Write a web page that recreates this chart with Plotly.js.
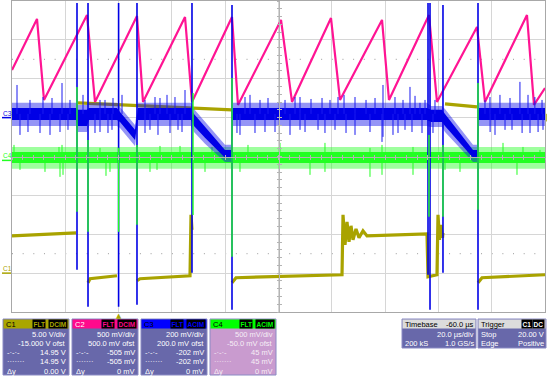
<!DOCTYPE html>
<html>
<head>
<meta charset="utf-8">
<script src="https://cdn.plot.ly/plotly-3.0.1.min.js"></script>
<style>
html,body{margin:0;padding:0;background:#ffffff;overflow:hidden;}
#chart{width:550px;height:376px;}
</style>
</head>
<body>
<div id="chart"></div>
<script>
// ===== scope settings =====
const chNames = ['C1','C2','C3','C4'];
const chVoltsPerDiv = [5.0, 0.5, 0.2, 0.5];
const chOffset = [-15.0, 0.5, 0.2, -0.05];
const timePerDiv = 20;      // µs/div
const timeLeft = -40;       // µs at left edge of graticule
const triggerTime = 0;      // µs
const triggerLevel = 20.0;  // V on C1
const cursorLevelsDiv = [2.5, -2.5];

// ===== C1 (olive), pieces separated by null =====
const c1Time = [-40, -15.98, null, -15.23, 42.55, null, -11.48, -10.73, -0.60, null, 6.90, 8.03, 26.79, 27.17, 27.54, null,
  42.55, 44.05, 83.83, 84.21, 84.96, 85.71, 86.46, 87.21, 87.96, 89.08, 90.21, 91.71, 93.21, 115.72, 116.10, 119.47, 119.85, 120.41, 120.97, 121.54, 121.72, null,
  122.48, 134.48, null, 134.86, 136.36, 160];
const c1Volt = [4.79, 5.18, null, 21.89, 20.99, null, -1.24, -0.72, -0.34, null, -0.98, -0.72, -0.34, 7.49, 5.57, null,
  -1.24, -0.59, -0.21, 7.49, 3.64, 6.59, 4.02, 6.08, 4.28, 5.69, 4.54, 5.44, 4.79, 5.05, -0.47, -0.21, 7.49, 4.28, 6.21, 4.54, 5.18, null,
  21.76, 21.38, null, -1.24, -0.59, -0.21];

// ===== C2 (magenta) sawtooth =====
const c2Time = [-40, -30.62, -27.99, -11.86, -8.86, 6.90, 9.16, 24.92, 27.54, 42.55, 44.80, 60.94, 65.07, 79.70, 83.08, 98.84, 101.46, 116.47, 119.47, 134.48, 137.48, 153.24, 155.87, 160];
const c2Volt = [0.613, 1.269, 0.227, 1.320, 0.202, 1.307, 0.202, 1.294, 0.202, 1.294, 0.163, 1.256, 0.202, 1.281, 0.227, 1.256, 0.227, 1.320, 0.202, 1.166, 0.202, 1.320, 0.163, 0.38];

// ===== C3 (blue): noise band envelopes, noise spikes, switching spikes =====
const c3BandTime = [-40, -15.98, -15.23, -11.86, -11.11, -0.60, 0.53, 6.15, 7.28, 27.17, 28.29, 32.42, 39.92, 42.17, 42.92, 115.72, 117.22, 121.35, 122.48, 132.98, 134.48, 135.23, 160];
const c3CoreHigh = [0.050, 0.050, 0.040, 0.040, 0.050, 0.050, 0.029, -0.063, 0.050, 0.050, 0.019, -0.048, -0.166, -0.166, 0.050, 0.050, 0.040, 0.040, 0.019, -0.166, -0.166, 0.050, 0.050];
const c3CoreLow = [-0.012, -0.012, -0.043, -0.043, -0.012, -0.012, -0.022, -0.115, -0.012, -0.012, -0.043, -0.104, -0.207, -0.207, -0.012, -0.012, -0.022, -0.022, -0.043, -0.207, -0.207, -0.012, -0.012];
const c3FringeHigh = [0.076, 0.076, 0.065, 0.065, 0.076, 0.076, 0.055, -0.038, 0.076, 0.076, 0.045, -0.022, -0.140, -0.140, 0.076, 0.076, 0.060, 0.060, 0.045, -0.140, -0.140, 0.076, 0.076];
const c3FringeLow = [-0.043, -0.043, -0.074, -0.074, -0.043, -0.043, -0.053, -0.146, -0.043, -0.043, -0.074, -0.135, -0.228, -0.228, -0.043, -0.043, -0.048, -0.048, -0.074, -0.228, -0.228, -0.043, -0.043];
const c3NoiseBase = 0.019;
const c3NoiseUpTime = [-38.12, -33.25, -28.37, -24.99, -21.24, -18.24, -13.36, -6.98, -5.10, -2.10, 1.28, 9.91, 13.66, 15.53, 18.16, 21.16, 24.92,
  47.43, 49.31, 53.06, 56.06, 62.45, 66.20, 68.07, 72.20, 76.33, 79.33, 82.33, 84.59, 88.71, 92.84, 96.22, 99.21, 103.71, 106.72, 109.34, 111.23, 113.09, 114.98, 118.72,
  137.48, 139.36, 143.10, 146.87, 150.6, 153.62, 156.2, 158.88];
const c3NoiseUpVolt = [0.168, 0.091, 0.106, 0.101, 0.178, 0.091, 0.117, 0.091, 0.091, 0.101, 0.117, 0.091, 0.106, 0.101, 0.117, 0.106, 0.142,
  0.106, 0.117, 0.091, 0.101, 0.091, 0.106, 0.106, 0.096, 0.101, 0.091, 0.106, 0.117, 0.106, 0.091, 0.101, 0.168, 0.106, 0.091, 0.158, 0.112, 0.076, 0.091, 0.091,
  0.091, 0.106, 0.117, 0.101, 0.184, 0.117, 0.106, 0.091];
const c3NoiseDownTime = [-37.00, -34.00, -29.49, -25.74, -21.99, -18.99, -8.86, -6.98, -3.98, -2.48, 9.91, 11.78, 14.78, 19.29, 22.29, 23.79,
  44.42, 45.55, 51.18, 54.93, 58.69, 64.32, 68.07, 69.95, 74.83, 77.44, 81.20, 85.34, 88.71, 94.33, 98.84, 99.21, 102.96, 104.84, 107.47, 110.09, 113.85, 117.97,
  139.4, 141.24, 145.0, 147.62, 151.4, 154.37, 157.4, 159.25];
const c3NoiseDownVolt = [-0.089, -0.074, -0.079, -0.089, -0.074, -0.063, -0.079, -0.074, -0.079, -0.063, -0.079, -0.063, -0.089, -0.079, -0.063, -0.074,
  -0.079, -0.089, -0.079, -0.074, -0.074, -0.089, -0.063, -0.074, -0.063, -0.079, -0.063, -0.079, -0.089, -0.074, -0.125, -0.099, -0.089, -0.079, -0.063, -0.074, -0.079, -0.079,
  -0.074, -0.089, -0.063, -0.063, -0.079, -0.079, -0.074, -0.063];
const c3SpikeTime = [-15.61, -11.48, 0, 6.90, 27.54, 42.55, 116.10, 116.85, 121.72, 134.86];
const c3SpikeHigh = [0.59, 0.59, 0.59, 0.59, 0.59, 0.579, 0.59, 0.59, 0.579, 0.59];
const c3SpikeLow = [-0.783, -0.973, -0.973, -0.963, -0.798, -0.989, -0.809, -0.989, -0.798, -0.989];

// ===== C4 (green): noise band, noise spikes, switching spikes =====
const c4BandTime = [-40, 60, 160];
const c4CoreHigh = [0.109, 0.109, 0.109];
const c4CoreLow = [-0.032, -0.032, -0.032];
const c4FringeHigh = [0.173, 0.173, 0.173];
const c4FringeLow = [-0.109, -0.109, -0.109];
const c4NoiseBase = 0.032;
const c4NoiseUpTime = [-39.25, -22.36, -21.24, -6.98, 15.53, 23.04, 35.05, 48.55, 60.56, 77.44, 94.33, 98.84, 110.47, 131.11, 144.24, 151.74, 158.12];
const c4NoiseUpVolt = [0.199, 0.173, 0.199, 0.161, 0.186, 0.186, 0.173, 0.199, 0.225, 0.225, 0.161, 0.199, 0.173, 0.161, 0.225, 0.173, 0.135];
const c4NoiseDownTime = [-37.00, -27.62, -21.99, -20.86, -4.73, -3.23, 11.78, 14.41, 32.42, 45.55, 71.82, 77.44, 94.33, 98.84, 110.47, 122.48, 128.10, 149.49];
const c4NoiseDownVolt = [-0.122, -0.148, -0.212, -0.186, -0.199, -0.148, -0.148, -0.122, -0.148, -0.148, -0.186, -0.148, -0.212, -0.186, -0.186, -0.122, -0.148, -0.186];
const c4SpikeTime = [-15.61, -11.48, 0, 6.90, 27.92, 42.55, 116.47, 121.72, 134.86];
const c4SpikeHigh = [0.945, 0.263, 0.161, 0.199, 0.867, 1.060, 0.328, 0.199, 0.996];
const c4SpikeLow = [-0.662, -0.919, -0.919, -0.829, -0.701, -1.240, -0.726, -0.726, -0.636];

// ===== readout panel texts =====
const panelModes = [['FLT','DCIM'],['FLT','DCIM'],['FLT','ACIM'],['FLT','ACIM']];
const panelScale = ['5.00 V/div','500 mV/div','200 mV/div','500 mV/div'];
const panelOffset = ['-15.000 V ofst','500.0 mV ofst','200.0 mV ofst','-50.0 mV ofst'];
const panelCursorA = ['14.95 V','-505 mV','-202 mV','45 mV'];
const panelCursorB = ['14.95 V','-505 mV','-202 mV','45 mV'];
const panelDelta = ['0.00 V','0 mV','0 mV','0 mV'];
const timebaseTexts = ['Timebase','-60.0 µs','20.0 µs/div','200 kS','1.0 GS/s'];
const triggerTexts = ['Trigger','C1','DC','Stop','20.00 V','Edge','Positive'];

// ===== styling =====
const FONT = 'Liberation Sans, Arial, sans-serif';
const chColor = ['#a9a300', '#ff1493', '#0000e6', '#22ff22'];
const fringeColor = ['', '', 'rgba(20,20,235,0.45)', 'rgba(40,255,40,0.45)'];
const headColor = ['#aaa600', '#ff0a8c', '#0000ff', '#00ff00'];
const headText = ['#000000', '#ffffff', '#000000', '#000000'];
const bodyColor = ['#6868aa', '#6868aa', '#6868aa', '#c99bcf'];
const bodyText = ['#ffffff', '#ffffff', '#ffffff', '#f6eef6'];

const L = 12, R = 545, T = 1, B = 312;
const px = x => (x - L) / (R - L);
const py = y => (B - y) / (B - T);

function vSegs(ts, a, b) {
  const x = [], y = [];
  for (let i = 0; i < ts.length; i++) { x.push(ts[i], ts[i], null); y.push(a[i], b[i], null); }
  return {x, y};
}
function spikes(ts, vs, base) {
  const x = [], y = [];
  for (let i = 0; i < ts.length; i++) { x.push(ts[i], ts[i], null); y.push(base, vs[i], null); }
  return {x, y};
}
function cat(p, q) { return {x: p.x.concat(q.x), y: p.y.concat(q.y)}; }

const c3Noise = cat(spikes(c3NoiseUpTime, c3NoiseUpVolt, c3NoiseBase), spikes(c3NoiseDownTime, c3NoiseDownVolt, c3NoiseBase));
const c4Noise = cat(spikes(c4NoiseUpTime, c4NoiseUpVolt, c4NoiseBase), spikes(c4NoiseDownTime, c4NoiseDownVolt, c4NoiseBase));
const c3Sp = vSegs(c3SpikeTime, c3SpikeHigh, c3SpikeLow);
const c4Sp = vSegs(c4SpikeTime, c4SpikeHigh, c4SpikeLow);

const base = {type: 'scatter', mode: 'lines', hoverinfo: 'skip', showlegend: false, connectgaps: false};
function band(t, hi, lo, ax, col) {
  return [
    Object.assign({}, base, {x: t, y: hi, yaxis: ax, line: {width: 0, color: col}}),
    Object.assign({}, base, {x: t, y: lo, yaxis: ax, line: {width: 0, color: col}, fill: 'tonexty', fillcolor: col})
  ];
}
const traces = [].concat(
  [Object.assign({}, base, {x: [], y: [], xaxis: 'x', yaxis: 'y'})],
  // C1 on y2
  [Object.assign({}, base, {x: c1Time, y: c1Volt, yaxis: 'y2', line: {color: chColor[0], width: 3.2}})],
  // C2 on y3
  [Object.assign({}, base, {x: c2Time, y: c2Volt, yaxis: 'y3', line: {color: chColor[1], width: 2.2}})],
  // C4 band + noise on y4 (below C3)
  band(c4BandTime, c4FringeHigh, c4FringeLow, 'y4', fringeColor[3]),
  band(c4BandTime, c4CoreHigh, c4CoreLow, 'y4', chColor[3]),
  [Object.assign({}, base, {x: c4Noise.x, y: c4Noise.y, yaxis: 'y4', line: {color: chColor[3], width: 1}})],
  // C3 on y5
  band(c3BandTime, c3FringeHigh, c3FringeLow, 'y5', fringeColor[2]),
  band(c3BandTime, c3CoreHigh, c3CoreLow, 'y5', chColor[2]),
  [Object.assign({}, base, {x: c3Noise.x, y: c3Noise.y, yaxis: 'y5', line: {color: '#1a1af0', width: 1}}),
   Object.assign({}, base, {x: c3Sp.x, y: c3Sp.y, yaxis: 'y5', line: {color: chColor[2], width: 1.6}})],
  // C4 switching spikes on y6 (above C3)
  [Object.assign({}, base, {x: c4Sp.x, y: c4Sp.y, yaxis: 'y6', line: {color: chColor[3], width: 1.4}})],
  // trigger level marker
  [Object.assign({}, base, {mode: 'markers', x: [timeLeft + 10 * timePerDiv], y: [triggerLevel], yaxis: 'y2', cliponaxis: false,
    marker: {symbol: 'triangle-left', size: 7, color: chColor[0]}})],
  // centre tick axes
  [Object.assign({}, base, {x: [], y: [], yaxis: 'y7'}),
   Object.assign({}, base, {x: [], y: [], yaxis: 'y8'}),
   Object.assign({}, base, {x: [], y: [], xaxis: 'x2', yaxis: 'y'}),
   Object.assign({}, base, {x: [], y: [], xaxis: 'x3', yaxis: 'y'})]
);

function chAxis(i) {
  return {range: [-4 * chVoltsPerDiv[i] - chOffset[i], 4 * chVoltsPerDiv[i] - chOffset[i]], overlaying: 'y', visible: false, fixedrange: true};
}
const tRange = [timeLeft, timeLeft + 10 * timePerDiv];
const tickAx = (ticks) => ({anchor: 'free', position: 0.5, showline: true, linecolor: '#b4b4b4', linewidth: 1,
  ticks: ticks, ticklen: 2, tickwidth: 1, tickcolor: '#b4b4b4', showticklabels: false, showgrid: false, zeroline: false, fixedrange: true});

const shapes = [];
const annotations = [];

// cursor dotted lines
cursorLevelsDiv.forEach(v => shapes.push({type: 'line', xref: 'paper', yref: 'y', x0: 0, x1: 1, y0: v, y1: v,
  line: {color: '#9a9a9a', width: 1, dash: '1px,9.66px'}, layer: 'below'}));

// channel ground labels (left)
const gAxes = ['y2', 'y5', 'y4'];
const gIdx = [0, 2, 3];
gIdx.forEach((ci, k) => {
  annotations.push({xref: 'paper', yref: gAxes[k], x: px(2), y: 0, xanchor: 'left', yanchor: 'bottom', text: chNames[ci], showarrow: false,
    font: {family: FONT, size: 6.5, color: chColor[ci]}, borderpad: 0});
  shapes.push({type: 'line', xref: 'paper', yref: gAxes[k], x0: px(2), x1: px(11), y0: 0, y1: 0, line: {color: chColor[ci], width: 1.5}});
});
// trigger position marker (below graticule)
annotations.push({xref: 'x', yref: 'paper', x: triggerTime, y: py(316), text: '▲', showarrow: false, xanchor: 'center', yanchor: 'middle',
  font: {family: 'DejaVu Sans, sans-serif', size: 7, color: chColor[0]}, borderpad: 0});

// readout boxes
function rect(x0, y0, x1, y1, fill, lineCol) {
  shapes.push({type: 'rect', xref: 'paper', yref: 'paper', x0: px(x0), x1: px(x1), y0: py(y0), y1: py(y1),
    fillcolor: fill, line: {color: lineCol || fill, width: lineCol ? 1 : 0}});
}
function txt(x, y, s, color, anchor, extra) {
  annotations.push(Object.assign({xref: 'paper', yref: 'paper', x: px(x), y: py(y), text: s, showarrow: false,
    xanchor: anchor, yanchor: 'middle', borderpad: 0, font: {family: FONT, size: 7.5, color: color}}, extra || {}));
}
function badge(xr, y, s, fg) {
  txt(xr, y, s, fg, 'right', {bgcolor: '#000000', borderpad: 0.5, font: {family: FONT, size: 6.5, color: fg, weight: 'bold'}});
}

const boxX = [3, 72, 141, 210], boxW = 66, boxTop = 319, boxBot = 375;
const rowY = [324, 334, 343.3, 352.6, 361.8, 371];
for (let i = 0; i < 4; i++) {
  const x0 = boxX[i], x1 = boxX[i] + boxW;
  rect(x0, boxTop, x1, boxBot, bodyColor[i], '#8a8ac4');
  rect(x0 + 0.5, boxTop + 0.5, x1 - 0.5, boxTop + 9.5, headColor[i]);
  txt(x0 + 2, rowY[0], chNames[i], headText[i], 'left');
  badge(x1 - 1.5, rowY[0], panelModes[i][1], headColor[i]);
  badge(x1 - 23.5, rowY[0], panelModes[i][0], headColor[i]);
  txt(x1 - 2, rowY[1], panelScale[i], bodyText[i], 'right');
  txt(x1 - 2, rowY[2], panelOffset[i], bodyText[i], 'right');
  txt(x0 + 3, rowY[3], '-·-·-', bodyText[i], 'left');
  txt(x1 - 2, rowY[3], panelCursorA[i], bodyText[i], 'right');
  txt(x0 + 3, rowY[4], '·······', bodyText[i], 'left');
  txt(x1 - 2, rowY[4], panelCursorB[i], bodyText[i], 'right');
  txt(x0 + 3, rowY[5], 'Δy', bodyText[i], 'left');
  txt(x1 - 2, rowY[5], panelDelta[i], bodyText[i], 'right');
}

// timebase box
rect(402, boxTop, 476, 348, '#6868aa', '#8a8ac4');
rect(402.5, boxTop + 0.5, 475.5, boxTop + 9.5, '#dcdcdc');
txt(404, rowY[0], timebaseTexts[0], '#000000', 'left');
txt(475, rowY[0], timebaseTexts[1], '#000000', 'right');
txt(475, rowY[1], timebaseTexts[2], '#ffffff', 'right');
txt(404, rowY[2], timebaseTexts[3], '#ffffff', 'left');
txt(475, rowY[2], timebaseTexts[4], '#ffffff', 'right');
// trigger box
rect(478, boxTop, 546, 348, '#6868aa', '#8a8ac4');
rect(478.5, boxTop + 0.5, 545.5, boxTop + 9.5, '#dcdcdc');
txt(480, rowY[0], triggerTexts[0], '#000000', 'left');
badge(544.5, rowY[0], triggerTexts[2], '#ffffff');
badge(533, rowY[0], triggerTexts[1], '#ffffff');
txt(480, rowY[1], triggerTexts[3], '#ffffff', 'left');
txt(545, rowY[1], triggerTexts[4], '#ffffff', 'right');
txt(480, rowY[2], triggerTexts[5], '#ffffff', 'left');
txt(545, rowY[2], triggerTexts[6], '#ffffff', 'right');

const layout = {
  width: 550, height: 376,
  margin: {l: L, r: 550 - R, t: T, b: 376 - B, pad: 0},
  paper_bgcolor: '#ffffff', plot_bgcolor: '#ffffff',
  showlegend: false,
  xaxis: {range: tRange, tick0: timeLeft, dtick: timePerDiv, showgrid: true, gridcolor: '#d6d6d6', gridwidth: 1,
    showline: true, mirror: true, linecolor: '#a8a8a8', linewidth: 1, ticks: '', showticklabels: false, zeroline: false, fixedrange: true},
  yaxis: {range: [-4, 4], tick0: -4, dtick: 1, showgrid: true, gridcolor: '#d6d6d6', gridwidth: 1,
    showline: true, mirror: true, linecolor: '#a8a8a8', linewidth: 1, ticks: '', showticklabels: false,
    zeroline: true, zerolinecolor: '#b4b4b4', zerolinewidth: 1, fixedrange: true},
  yaxis2: chAxis(0), yaxis3: chAxis(1), yaxis4: chAxis(3), yaxis5: chAxis(2), yaxis6: chAxis(3),
  yaxis7: Object.assign({overlaying: 'y', range: [-4, 4], tick0: 0, dtick: 0.2}, tickAx('outside')),
  yaxis8: Object.assign({overlaying: 'y', range: [-4, 4], tick0: 0, dtick: 0.2}, tickAx('inside')),
  xaxis2: Object.assign({overlaying: 'x', range: tRange, tick0: timeLeft, dtick: timePerDiv / 5}, tickAx('outside')),
  xaxis3: Object.assign({overlaying: 'x', range: tRange, tick0: timeLeft, dtick: timePerDiv / 5}, tickAx('inside')),
  shapes: shapes,
  annotations: annotations
};

Plotly.newPlot('chart', traces, layout, {staticPlot: true, displayModeBar: false});
</script>
</body>
</html>
